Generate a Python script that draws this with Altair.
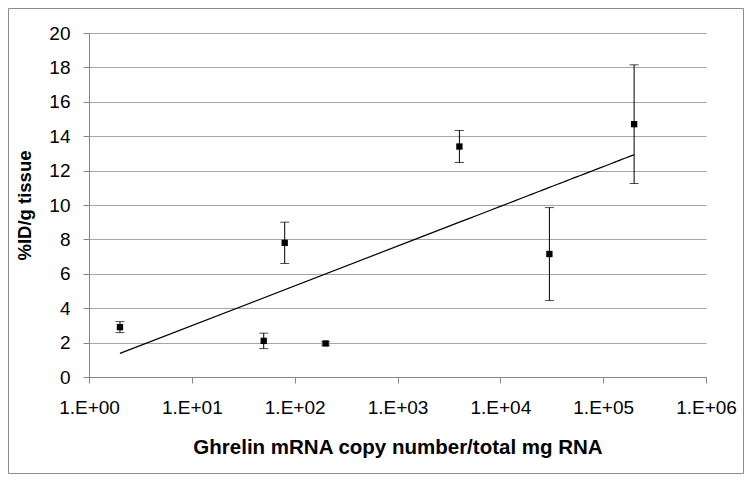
import altair as alt
import pandas as pd

# Data
copy_number = [2, 50, 80, 200, 4000, 30000, 200000]
pct_id = [2.9, 2.1, 7.8, 1.95, 13.4, 7.15, 14.7]
err = [0.32, 0.45, 1.2, 0.1, 0.93, 2.7, 3.45]

x_ticks = [1, 10, 100, 1000, 10000, 100000, 1000000]
y_ticks = [0, 2, 4, 6, 8, 10, 12, 14, 16, 18, 20]

df = pd.DataFrame({
    "x": copy_number,
    "y": pct_id,
    "lo": [m - e for m, e in zip(pct_id, err)],
    "hi": [m + e for m, e in zip(pct_id, err)],
})

W, H = 617, 344
PAD = {"left": 81, "top": 25, "right": 38, "bottom": 97}
FONT = "Liberation Sans"

xscale = alt.Scale(type="log", domain=[1, 1000000], nice=False)
yscale = alt.Scale(domain=[0, 20], nice=False)

xaxis = alt.Axis(
    values=x_ticks,
    labelExpr="'1.E+0' + round(log(datum.value) / LN10)",
    title="Ghrelin mRNA copy number/total mg RNA",
    titleFontSize=20.5,
    grid=False,
    tickSize=6,
    labelPadding=15,
    titlePadding=20,
    labelOverlap=False,
    labelFlush=False,
)
yaxis = alt.Axis(
    values=y_ticks,
    title="%ID/g tissue",
    titleFontSize=18.5,
    grid=True,
    tickSize=6,
    labelPadding=13,
    titlePadding=14,
    labelOverlap=False,
)

X = alt.X("x:Q", scale=xscale, axis=xaxis)

base = alt.Chart(df)

points = base.mark_square(size=40, color="black", opacity=1).encode(
    x=X,
    y=alt.Y("y:Q", scale=yscale, axis=yaxis),
)

bars = base.mark_rule(color="black", strokeWidth=1).encode(
    x=X,
    y=alt.Y("lo:Q", scale=yscale, axis=yaxis),
    y2="hi:Q",
)

cap_lo = base.mark_tick(color="black", thickness=1, size=9, orient="horizontal").encode(
    x=X,
    y=alt.Y("lo:Q", scale=yscale, axis=yaxis),
)
cap_hi = base.mark_tick(color="black", thickness=1, size=9, orient="horizontal").encode(
    x=X,
    y=alt.Y("hi:Q", scale=yscale, axis=yaxis),
)

trend = base.transform_regression("x", "y", method="log").mark_line(
    color="black", strokeWidth=1.2
).encode(
    x=X,
    y=alt.Y("y:Q", scale=yscale, axis=yaxis),
)

frame = alt.Chart(pd.DataFrame({"a": [0]})).mark_rect(
    fill=None, stroke="#8c8c8c", strokeWidth=1
).encode(
    x=alt.value(-PAD["left"] + 0.5),
    x2=alt.value(W + PAD["right"] - 0.5),
    y=alt.value(-PAD["top"] + 0.5),
    y2=alt.value(H + PAD["bottom"] - 0.5),
)

chart = alt.layer(points, trend, bars, cap_lo, cap_hi, frame).properties(
    width=W,
    height=H,
    autosize=alt.AutoSizeParams(type="none"),
    padding=PAD,
).configure_view(
    stroke=None
).configure_axis(
    labelFont=FONT,
    titleFont=FONT,
    labelFontSize=19,
    titleFontWeight="bold",
    labelColor="black",
    titleColor="black",
    domainColor="#868686",
    tickColor="#868686",
    gridColor="#a6a6a6",
    gridWidth=1,
)

chart.save("out.html", embed_options={"renderer": "svg", "actions": False})
